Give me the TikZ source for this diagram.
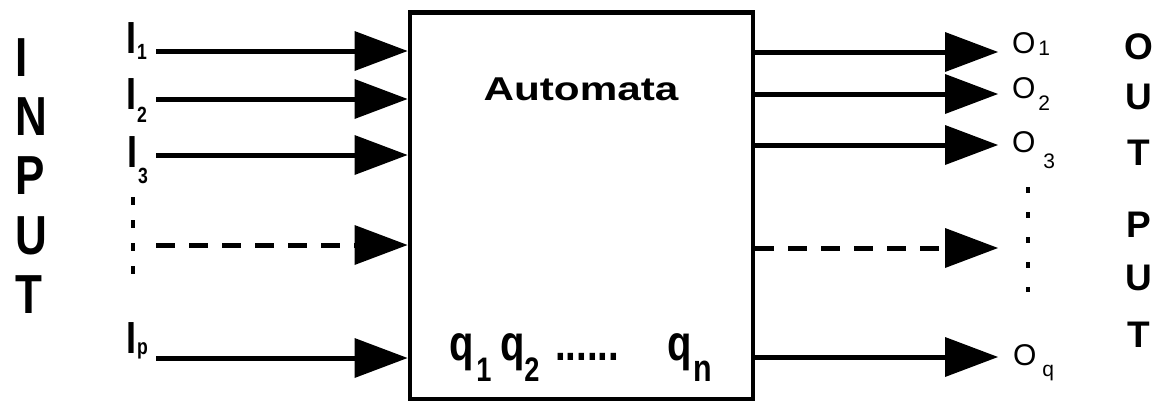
\documentclass[tikz,border=0pt]{standalone}
\usepackage{fontspec}
\setmainfont{Liberation Sans}
\newfontfamily\narrowf[FakeStretch=0.8]{Liberation Sans}
\newfontfamily\widef[FakeStretch=1.28]{Liberation Sans}
\usetikzlibrary{arrows.meta}
\newcommand{\fs}[1]{\fontsize{#1}{#1}\selectfont}
\begin{document}
\begin{tikzpicture}[x=1pt,y=-1pt,
  lbl/.style={inner sep=0pt, outer sep=0pt, anchor=base west},
  inl/.style={lbl, font=\narrowf\bfseries\fs{55}},
  outl/.style={inner sep=0pt, anchor=base, font=\bfseries\fs{37}},
  ilab/.style={lbl, font=\narrowf\bfseries},
  olab/.style={lbl},
  qlab/.style={lbl, font=\narrowf\bfseries},
  arr/.style={line width=5pt, -{Triangle[length=53pt,width=40pt,line width=0pt]}},
  darr/.style={arr, dash pattern=on 19pt off 14pt},
  dots/.style={line width=4pt, dash pattern=on 8pt off 15pt},
  boxst/.style={draw, line width=4.5pt, minimum width=343pt, minimum height=387pt, inner sep=0pt, anchor=north west}
]
\useasboundingbox[fill=white] (0,0) rectangle (1154,400);

% box
\node[boxst] (auto) at (407.5,10) {};
\node[inner sep=0pt, anchor=base, font=\widef\bfseries\fs{33}] (title) at (581,100) {Automata};

% INPUT letters
\node[inl] (n1) at (16,76) {I};
\node[inl] (n2) at (16,135) {N};
\node[inl] (n3) at (16,194) {P};
\node[inl] (n4) at (16,254) {U};
\node[inl] (n5) at (16,313) {T};

% OUTPUT letters
\node[outl] (m1) at (1139,59) {O};
\node[outl] (m2) at (1139,109) {U};
\node[outl] (m3) at (1139,165) {T};
\node[outl] (m4) at (1139,237) {P};
\node[outl] (m5) at (1139,290) {U};
\node[outl] (m6) at (1139,347) {T};

% input labels
\node[ilab] (l1) at (126,53) {\fs{45}I\hspace{1pt}\raisebox{-6pt}{\fs{22}1}};
\node[ilab] (l2) at (126,109) {\fs{45}I\hspace{1pt}\raisebox{-13pt}{\fs{22}2}};
\node[ilab] (l3) at (127,167) {\fs{45}I\hspace{1pt}\raisebox{-16pt}{\fs{22}3}};
\node[ilab] (lp) at (126,353) {\fs{45}I\hspace{1pt}\raisebox{-1pt}{\fs{22}p}};

% output labels
\node[olab] (o1) at (1012,53) {\fs{30}O\hspace{3pt}\raisebox{-2pt}{\fs{21}1}};
\node[olab] (o2) at (1012,98) {\fs{30}O\hspace{3pt}\raisebox{-12pt}{\fs{21}2}};
\node[olab] (o3) at (1012,152) {\fs{30}O\hspace{8pt}\raisebox{-16pt}{\fs{21}3}};
\node[olab] (oq) at (1013,365) {\fs{30}O\hspace{6pt}\raisebox{-11pt}{\fs{21}q}};

% states
\node[qlab] (q1) at (449,360) {\fs{50}q\hspace{3pt}\raisebox{-21pt}{\fs{34}1}};
\node[qlab] (q2) at (500,360) {\fs{50}q\raisebox{-21pt}{\fs{34}2}};
\node[qlab] (qd) at (555,360) {\fs{48}......};
\node[qlab] (qn) at (667,360) {\fs{50}q\hspace{2pt}\raisebox{-21pt}{\fs{38}n}};

% input connectors
\coordinate (a1) at (156,51);
\coordinate (a2) at (156,99);
\coordinate (a3) at (156,155);
\coordinate (a4) at (156,245);
\coordinate (a5) at (156,358);
\draw[arr] (a1) -- (a1 -| auto.west);
\draw[arr] (a2) -- (a2 -| auto.west);
\draw[arr] (a3) -- (a3 -| auto.west);
\draw[darr] (a4) -- (a4 -| auto.west);
\draw[arr] (a5) -- (a5 -| auto.west);

% output connectors
\coordinate (b1) at (998,52);
\coordinate (b2) at (998,94);
\coordinate (b3) at (998,145);
\coordinate (b4) at (998,248);
\coordinate (b5) at (998,357);
\draw[arr] (b1 -| auto.east) -- (b1);
\draw[arr] (b2 -| auto.east) -- (b2);
\draw[arr] (b3 -| auto.east) -- (b3);
\draw[darr] (b4 -| auto.east) -- (b4);
\draw[arr] (b5 -| auto.east) -- (b5);

% vertical dotted lines
\coordinate (d1s) at (133,197);
\coordinate (d1e) at (133,276);
\coordinate (d2s) at (1028,187);
\coordinate (d2e) at (1028,292);
\draw[dots] (d1s) -- (d1e);
\draw[dots, dash pattern=on 6pt off 19pt] (d2s) -- (d2e);
\end{tikzpicture}
\end{document}
